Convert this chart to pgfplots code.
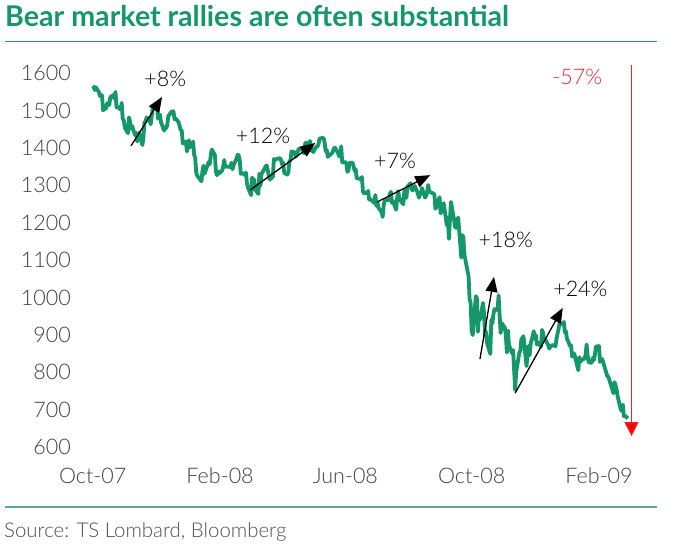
\documentclass[border=0pt]{standalone}
\usepackage{fontspec}
\setmainfont{Lato}[UprightFont={* Light}, BoldFont={* Bold}]
\usepackage{pgfplots}
\pgfplotsset{compat=1.18}
\usepackage{pgfplotstable}
\usetikzlibrary{arrows.meta}
\definecolor{tsgreen}{RGB}{20,152,106}
\definecolor{rulegreen}{RGB}{30,150,110}
\definecolor{ruleteal}{RGB}{95,168,152}
\definecolor{ticktext}{RGB}{64,64,64}
\definecolor{srctext}{RGB}{80,80,80}
\definecolor{annred}{RGB}{232,40,40}

% day index from 9 Oct 2007, S&P 500 close
\pgfplotstableread{
d v
0 1565.15
1 1562.47
2 1554.41
3 1561.80
6 1548.71
7 1538.53
8 1541.24
9 1540.08
10 1500.63
13 1506.33
14 1519.59
15 1515.88
16 1514.40
17 1535.28
20 1540.98
21 1531.02
22 1549.38
23 1508.44
24 1509.65
27 1502.17
28 1520.27
29 1475.62
30 1474.77
31 1453.70
34 1439.18
35 1481.05
36 1470.58
37 1451.15
38 1458.74
41 1433.27
42 1439.70
43 1416.77
45 1440.70
48 1407.22
49 1428.23
50 1469.02
51 1469.72
52 1481.14
55 1472.42
56 1462.79
57 1485.01
58 1507.34
59 1504.66
62 1515.96
63 1477.65
64 1486.59
65 1488.41
66 1467.95
69 1445.90
70 1454.98
71 1453.00
72 1460.12
73 1484.46
76 1496.45
78 1497.66
79 1476.27
80 1478.49
83 1468.36
85 1447.16
86 1447.16
87 1411.63
90 1416.18
91 1390.19
92 1409.13
93 1420.33
94 1401.02
97 1416.25
98 1380.95
99 1373.20
100 1333.25
101 1325.19
105 1310.50
106 1338.60
107 1352.07
108 1330.61
111 1353.96
112 1362.30
113 1355.81
114 1378.55
115 1395.42
118 1380.82
119 1336.64
120 1326.45
121 1336.91
122 1331.29
125 1339.13
126 1348.86
127 1367.21
128 1348.86
129 1349.99
133 1348.78
134 1360.03
135 1342.53
136 1353.11
139 1371.80
140 1381.29
141 1380.02
142 1367.68
143 1330.63
146 1331.34
147 1326.75
148 1333.70
149 1304.34
150 1293.37
153 1273.37
154 1320.65
155 1308.77
156 1315.48
157 1288.14
160 1276.60
161 1330.74
162 1298.42
163 1329.51
167 1349.88
168 1352.99
169 1341.13
170 1325.76
171 1315.22
174 1322.70
175 1370.18
176 1367.53
177 1369.31
178 1370.40
181 1372.54
182 1365.54
183 1354.49
184 1360.55
185 1332.83
188 1328.32
189 1334.43
190 1364.71
191 1365.56
192 1390.33
195 1388.17
196 1375.94
197 1379.93
198 1388.82
199 1397.84
202 1396.37
203 1390.94
204 1385.59
205 1409.34
206 1413.90
209 1407.49
210 1418.26
211 1392.57
212 1397.68
213 1388.28
216 1403.58
217 1403.04
218 1408.66
219 1423.57
220 1425.35
223 1426.63
224 1413.40
225 1390.71
226 1394.35
227 1375.93
231 1385.35
232 1390.84
233 1398.26
234 1400.38
237 1385.67
238 1377.65
239 1377.20
240 1404.05
241 1360.68
244 1361.76
245 1358.44
246 1335.49
247 1339.87
248 1360.03
251 1360.14
252 1350.93
253 1337.81
254 1342.83
255 1317.93
258 1318.00
259 1314.29
260 1321.97
261 1283.15
262 1278.38
265 1280.00
266 1284.91
267 1261.52
268 1262.90
272 1252.31
273 1273.70
274 1244.69
275 1253.39
276 1239.49
279 1228.30
280 1214.91
281 1245.36
282 1260.32
283 1260.68
286 1260.00
287 1277.00
288 1282.19
289 1252.54
290 1257.76
293 1234.37
294 1263.20
295 1284.26
296 1267.38
297 1260.31
300 1249.01
301 1284.88
302 1289.19
303 1266.07
304 1296.32
307 1305.32
308 1289.59
309 1285.83
310 1292.93
311 1298.20
314 1278.60
315 1266.69
316 1274.54
317 1277.72
318 1292.20
321 1266.84
322 1271.51
323 1281.66
324 1300.68
325 1282.83
329 1277.58
330 1274.98
331 1236.83
332 1242.31
335 1267.79
336 1224.51
337 1232.04
338 1249.05
339 1251.70
342 1192.70
343 1213.60
344 1156.39
345 1206.51
346 1255.08
349 1207.09
350 1188.22
351 1185.87
352 1209.18
353 1213.27
356 1106.39
357 1166.36
358 1161.06
359 1114.28
360 1099.23
363 1056.89
364 996.23
365 984.94
366 909.92
367 899.22
370 1003.35
371 998.01
372 907.84
373 946.43
374 940.55
377 985.40
378 955.05
379 896.78
380 908.11
381 876.77
384 848.92
385 940.51
386 930.09
387 954.09
388 968.75
391 966.30
392 1005.75
393 952.77
394 904.88
395 930.99
398 919.21
399 898.95
400 852.30
401 911.29
402 873.29
405 850.75
406 859.12
407 806.58
408 752.44
409 800.03
412 851.81
413 857.39
414 887.68
416 896.24
419 816.21
420 848.81
421 870.74
422 845.22
423 876.07
426 909.70
427 888.67
428 899.24
429 873.59
430 879.73
433 868.57
434 913.18
435 904.42
436 885.28
437 887.88
440 871.63
441 863.16
442 868.15
444 872.80
447 869.42
448 890.64
449 903.25
451 931.80
454 927.45
455 934.70
456 906.65
457 909.73
458 890.35
461 870.26
462 871.79
463 842.62
464 843.74
465 850.12
469 805.22
470 840.24
471 827.50
472 831.95
475 836.57
476 845.71
477 874.09
478 845.14
479 825.88
482 825.44
483 838.51
484 832.23
485 845.85
486 868.60
489 869.89
490 827.16
491 833.74
492 835.19
493 826.84
497 789.17
498 788.42
499 778.94
500 770.05
503 743.33
504 773.14
505 764.90
506 752.83
507 735.09
510 700.82
511 696.33
512 712.87
513 682.55
514 683.38
517 676.53
}\spx

\begin{document}
\begin{tikzpicture}
\path[use as bounding box] (0,0) rectangle (680bp,553bp);
% title and rules
\node[anchor=base west, inner sep=0pt, text=tsgreen, font=\fontsize{28.6bp}{31bp}\selectfont\bfseries] at (5bp,526.3bp) {Bear market rallies are often substantial};
\draw[rulegreen, line width=1.5bp] (5bp,511.3bp) -- (657bp,511.3bp);
\draw[ruleteal, line width=1.5bp] (5bp,46bp) -- (657bp,46bp);
\node[anchor=base west, inner sep=0pt, text=srctext, font=\fontsize{20.4bp}{24bp}\selectfont] at (4bp,15.3bp) {Source: TS Lombard, Bloomberg};

\begin{axis}[
  at={(92.7bp,106bp)}, anchor=south west,
  scale only axis, width=535.3bp, height=374bp,
  xmin=0, xmax=517, ymin=600, ymax=1600,
  axis line style={draw=none},
  major tick style={draw=none}, minor tick num=0,
  xtick={0,123,244,366,489},
  xticklabels={Oct-07,Feb-08,Jun-08,Oct-08,Feb-09},
  ytick={600,700,...,1600},
  /pgf/number format/.cd, 1000 sep={}, assume math mode=true,
  /pgfplots/.cd,
  tick label style={text=ticktext, font=\fontsize{21.5bp}{24bp}\selectfont},
  yticklabel style={anchor=east, inner sep=0pt, xshift=-21.7bp},
  xticklabel style={anchor=base, inner sep=0pt, yshift=-37bp},
  clip=false,
]
\addplot[tsgreen, line width=3.8bp, line join=round, no markers] table[x=d, y=v] {\spx};

% rally arrows
\begin{scope}[black, line width=1.3bp, -{Triangle[length=15bp,width=12bp]}]
\draw (axis cs:37,1405) -- (axis cs:67,1536);
\draw (axis cs:152,1287) -- (axis cs:215,1413);
\draw (axis cs:274.6,1255) -- (axis cs:326,1327);
\draw (axis cs:374,835) -- (axis cs:387.6,1055);
\draw (axis cs:408,744) -- (axis cs:454,972);
\end{scope}
\draw[annred, line width=1.1bp, -{Triangle[length=14bp,width=14bp,fill=red]}] (axis cs:520.4,1621) -- (axis cs:520.4,629);

\begin{scope}[every node/.style={font=\fontsize{21.5bp}{24bp}\selectfont, inner sep=0pt}]
\node at (axis cs:70,1584) {+8\%};
\node at (axis cs:164.5,1432) {+12\%};
\node at (axis cs:292,1365) {+7\%};
\node at (axis cs:399,1153) {+18\%};
\node at (axis cs:471,1022) {+24\%};
\node[text=annred] at (axis cs:468,1589) {-57\%};
\end{scope}
\end{axis}
\end{tikzpicture}
\end{document}
